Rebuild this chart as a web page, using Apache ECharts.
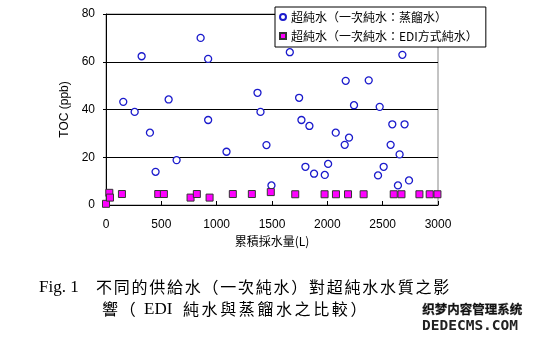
<!DOCTYPE html>
<html>
<head>
<meta charset="utf-8">
<script src="https://cdn.jsdelivr.net/npm/echarts@6/dist/echarts.min.js"></script>
<style>
  html, body { margin: 0; padding: 0; background: #fff; }
  #chart { width: 535px; height: 337px; }
</style>
</head>
<body>
<div id="chart"></div>
<script>
// Cumulative drawn volume (L) and TOC (ppb) for ultrapure water fed by distilled water
const distilledVolume = [156, 259, 322, 397, 448, 566, 638, 855, 923, 923, 1089, 1369, 1396, 1450, 1495,
  1661, 1745, 1766, 1802, 1838, 1880, 1977, 2007, 2076, 2157, 2166, 2196, 2241, 2374, 2458,
  2473, 2509, 2572, 2587, 2638, 2653, 2678, 2698, 2738];
const distilledToc = [43.2, 39.0, 62.3, 30.3, 13.9, 44.2, 18.8, 70.0, 61.2, 35.6, 22.3, 47.0, 39.0, 25.1, 8.2,
  64.0, 44.9, 35.6, 16.0, 33.1, 13.1, 12.6, 17.2, 30.3, 25.2, 52.0, 28.2, 41.8, 52.2, 12.4,
  41.1, 16.0, 25.2, 33.8, 8.2, 21.2, 62.9, 33.8, 10.3];

// Same measurement for ultrapure water fed by EDI-produced water
const ediVolume = [0, 30, 36, 144, 472, 523, 764, 821, 936, 1146, 1318, 1489, 1710, 1975, 2078,
  2187, 2328, 2600, 2670, 2832, 2925, 2995];
const ediToc = [0.5, 5.1, 3.1, 4.6, 4.6, 4.6, 3.1, 4.6, 3.1, 4.6, 4.6, 5.4, 4.5, 4.5, 4.5,
  4.5, 4.5, 4.5, 4.5, 4.5, 4.5, 4.5];

const xTicks = [0, 500, 1000, 1500, 2000, 2500, 3000];
const yTicks = [0, 20, 40, 60, 80];

const seriesNames = ['超純水（一次純水：蒸餾水）', '超純水（一次純水：EDI方式純水）'];
const xAxisTitle = '累積採水量(L)';
const yAxisTitle = 'TOC (ppb)';
const captionLabel = 'Fig. 1';
const captionLine1 = '不同的供給水（一次純水）對超純水水質之影';
const captionLine2a = '響（';
const captionLine2b = 'EDI';
const captionLine2c = '純水與蒸餾水之比較）';

const zip = (xs, ys) => xs.map((x, i) => [x, ys[i]]);

const serifFont = '17px "Liberation Serif", "Times New Roman", serif';
const cjkFont = '16px "Noto Sans CJK TC", sans-serif';

// Lay out a CJK string one glyph per cell, at a fixed pitch (Ming-style spacing)
function spacedText(str, x, y, pitch, font) {
  return Array.from(str).map((ch, i) => ({
    type: 'text', left: x + i * pitch, top: y, silent: true,
    style: { text: ch, font: font, fill: '#000' }
  }));
}

const chart = echarts.init(document.getElementById('chart'), null, { renderer: 'canvas' });

const tickFont = { fontFamily: 'Liberation Sans, Arial, sans-serif', fontSize: 12, color: '#000' };

chart.setOption({
  animation: false,
  backgroundColor: '#fff',
  grid: {
    left: 106, right: 97, top: 14, bottom: 132,
    show: true, borderColor: '#888', borderWidth: 1, backgroundColor: 'transparent'
  },
  legend: {
    orient: 'vertical',
    left: 275, top: 7,
    backgroundColor: '#fff',
    borderColor: '#000', borderWidth: 1,
    padding: [4, 8, 5, 4],
    itemGap: 7,
    itemWidth: 6, itemHeight: 6,
    textStyle: { fontFamily: 'Noto Sans CJK TC, sans-serif', fontSize: 12, color: '#000' },
    data: seriesNames
  },
  xAxis: {
    type: 'value',
    min: xTicks[0], max: xTicks[xTicks.length - 1], interval: 500,
    splitLine: { show: false },
    axisLine: { lineStyle: { color: '#000', width: 1 } },
    axisTick: { inside: true, length: 4, lineStyle: { color: '#000' } },
    axisLabel: Object.assign({ margin: 14, formatter: v => String(v) }, tickFont),
    name: xAxisTitle,
    nameLocation: 'middle',
    nameGap: 29,
    nameTextStyle: { fontFamily: 'Noto Sans CJK TC, sans-serif', fontSize: 12, color: '#000' }
  },
  yAxis: {
    type: 'value',
    min: yTicks[0], max: yTicks[yTicks.length - 1], interval: 20,
    splitLine: { show: true, lineStyle: { color: '#000', width: 1 } },
    axisLine: { show: true, lineStyle: { color: '#000', width: 1 } },
    axisTick: { show: true, length: 3, lineStyle: { color: '#000' } },
    axisLabel: Object.assign({ margin: 11, formatter: v => String(v) }, tickFont),
    name: yAxisTitle,
    nameLocation: 'middle',
    nameGap: 24,
    nameTextStyle: { fontFamily: 'Liberation Sans, Arial, sans-serif', fontSize: 12, color: '#000' }
  },
  series: [
    {
      name: seriesNames[0],
      type: 'scatter',
      symbol: 'circle',
      symbolSize: 7,
      itemStyle: { color: '#fff', borderColor: '#1a1acc', borderWidth: 1.3, opacity: 1 },
      data: zip(distilledVolume, distilledToc)
    },
    {
      name: seriesNames[1],
      type: 'scatter',
      symbol: 'rect',
      symbolSize: 7,
      itemStyle: { color: '#ff00ff', borderColor: '#333', borderWidth: 1, opacity: 1 },
      data: zip(ediVolume, ediToc)
    }
  ],
  graphic: [
    {
      type: 'text', left: 39, top: 279,
      style: { text: captionLabel, font: serifFont, fill: '#000' }
    },
    ...spacedText(captionLine1, 96, 279, 17.75, cjkFont),
    ...spacedText(captionLine2a, 102, 301, 17.75, cjkFont),
    {
      type: 'text', left: 144, top: 301,
      style: { text: captionLine2b, font: serifFont, fill: '#000' }
    },
    ...spacedText(captionLine2c, 183, 301, 18.6, cjkFont),
    {
      type: 'text', left: 422, top: 303,
      style: { text: '织梦内容管理系统', font: 'bold 12.5px "Noto Sans CJK SC", sans-serif', fill: '#111', stroke: '#999', lineWidth: 0.6 }
    },
    {
      type: 'text', left: 422, top: 319,
      style: { text: 'DEDECMS.COM', font: 'bold 14.5px "DejaVu Sans Mono", monospace', fill: '#222' }
    }
  ]
});
</script>
</body>
</html>
